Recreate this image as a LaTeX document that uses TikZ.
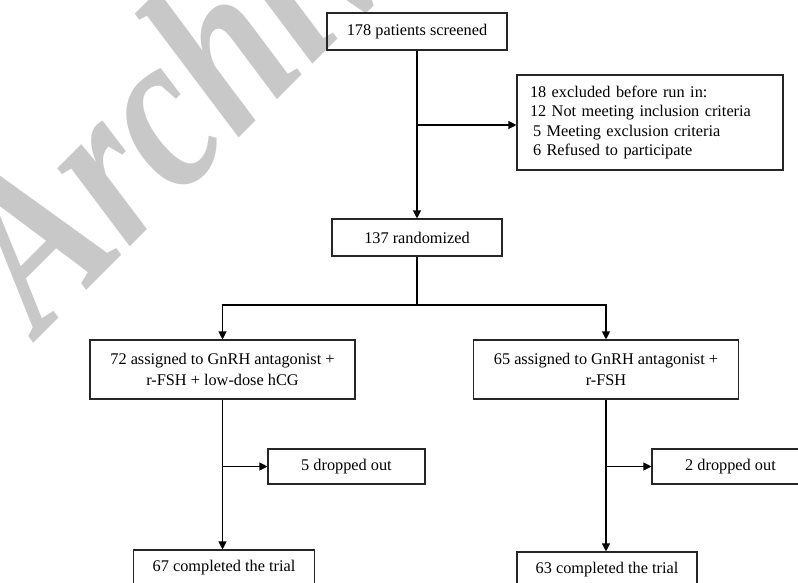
\documentclass[tikz,border=0pt]{standalone}
\usepackage{graphicx}
\usepackage{fontspec}
\setmainfont{Liberation Serif}
\usetikzlibrary{arrows.meta}
\definecolor{markgray}{RGB}{200,200,200}

\begin{document}
\begin{tikzpicture}[x=1pt,y=-1pt]
	\tikzstyle{box}=[draw=black!85,line width=1.1pt,rectangle,inner sep=0pt,align=center,font=\fontsize{16.3}{21.4}\selectfont]
	\tikzstyle{link}=[draw,line width=1.1pt,-]
	\tikzstyle{arrow}=[link,-{Triangle[length=8pt,width=8pt]}]
	\tikzstyle{watermark}=[rotate=45,anchor=base west,text=markgray,inner sep=0pt,font=\fontsize{232}{232}\selectfont\bfseries\itshape]

	\useasboundingbox (0,0) rectangle (798,582);
	\node[watermark] (mark) at (40,337) {\scalebox{0.8}[1]{Archive}};

	\node[box,minimum width=180pt,minimum height=37pt] (screened) at (417,31.5) {178 patients screened};
	\node[box,minimum height=95pt,text width=240pt,inner xsep=13pt,align=left,font=\fontsize{16.3}{19.3}\selectfont] (excluded) at (650,122.5) {18 excluded before run in:\\12 Not meeting inclusion criteria\\\hspace*{3pt}5 Meeting exclusion criteria\\\hspace*{3pt}6 Refused to participate};
	\node[box,minimum width=170pt,minimum height=37pt] (randomized) at (417,237.5) {137 randomized};

	\node[box,minimum width=265pt,minimum height=59pt] (hcg) at (222.5,369.5) {72 assigned to GnRH antagonist +\\r-FSH + low-dose hCG};
	\node[box,minimum width=265pt,minimum height=59pt] (fsh) at (606,369.5) {65 assigned to GnRH antagonist +\\r-FSH};

	\node[box,minimum width=157pt,minimum height=35pt] (hcgdrop) at (346.5,466.5) {5 dropped out};
	\node[box,minimum width=157pt,minimum height=35pt] (fshdrop) at (730.5,466.5) {2 dropped out};

	\node[box,minimum width=181pt,minimum height=36pt] (hcgdone) at (224,568) {67 completed the trial};
	\node[box,minimum width=180pt,minimum height=36pt] (fshdone) at (607,570) {63 completed the trial};

	\coordinate (exclsplit) at (417,125);
	\coordinate (groupsplit) at (417,305);
	\coordinate (hcgsplit) at (222.5,466.5);
	\coordinate (fshsplit) at (606,466.5);

	\draw[arrow] (screened) -- (randomized);
	\draw[arrow] (exclsplit) -- (exclsplit -| excluded.west);
	\draw[link] (randomized) -- (groupsplit);
	\draw[arrow] (groupsplit) -| (hcg);
	\draw[arrow] (groupsplit) -| (fsh);
	\draw[arrow] (hcg.south) -- (hcg.south |- hcgdone.north);
	\draw[arrow] (fsh.south) -- (fsh.south |- fshdone.north);
	\draw[arrow] (hcgsplit) -- (hcgdrop);
	\draw[arrow] (fshsplit) -- (fshdrop);
\end{tikzpicture}
\end{document}
